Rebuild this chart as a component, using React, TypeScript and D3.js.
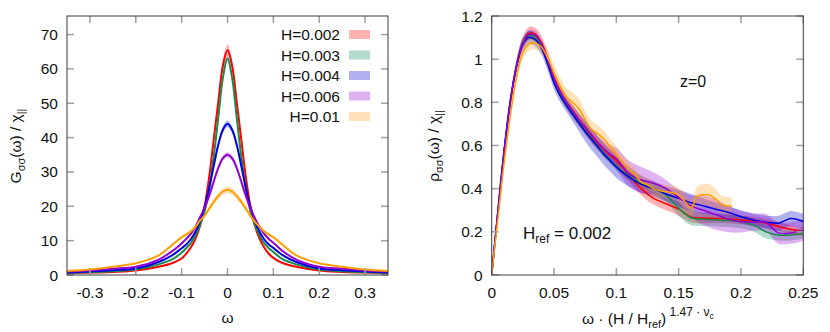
import * as d3 from "d3";

const FONT = "'Liberation Sans', Arial, Helvetica, sans-serif";

// ---------- left panel: G_σσ(ω) / χ ----------
const omega = [
  -0.35, -0.3, -0.25, -0.2, -0.15, -0.12, -0.1, -0.09, -0.08, -0.07, -0.06, -0.05, -0.04, -0.03, -0.02, -0.01,
  0, 0.01, 0.02, 0.03, 0.04, 0.05, 0.06, 0.07, 0.08, 0.09, 0.1, 0.12, 0.15, 0.2, 0.25, 0.3, 0.35,
];
const gH002 = [0.5, 0.7, 0.9, 1.3, 2.4, 3.5, 4.8, 6.2, 8, 10.5, 14.3, 20, 28.5, 39.5, 50.5, 61, 65.5, 61, 50.5, 39.5, 28.5, 20, 14.3, 10.5, 8, 6.2, 5.0, 3.5, 2.4, 1.3, 0.9, 0.7, 0.5];
const gH003 = [0.6, 0.8, 1.1, 1.6, 3.1, 4.6, 6.5, 7.8, 9.3, 11.5, 14.5, 18.5, 25, 34.5, 46, 57.5, 63, 57.5, 46, 34.5, 25, 18.5, 14.5, 11.5, 9.3, 7.8, 6.7, 4.6, 3.1, 1.6, 1.1, 0.8, 0.6];
const gH004 = [0.7, 1.0, 1.4, 1.9, 3.8, 5.8, 7.8, 8.9, 10.4, 12.6, 15.7, 19.8, 25.3, 31.8, 38, 42.3, 44, 42.3, 38, 31.8, 25.3, 19.8, 15.7, 12.6, 10.4, 8.9, 7.9, 5.8, 3.8, 1.9, 1.4, 1.0, 0.7];
const gH006 = [1.0, 1.3, 1.8, 2.4, 4.5, 7.0, 9.2, 10.5, 12, 14, 16.8, 19.5, 23, 27.2, 31.2, 34, 35, 34, 31.2, 27.2, 23, 19.5, 16.5, 14, 12, 10.5, 9.4, 7.0, 4.5, 2.4, 1.8, 1.3, 1.0];
const gH01 = [1.2, 1.6, 2.4, 3.4, 5.7, 8.8, 11.0, 11.8, 12.7, 14, 15.8, 17.3, 19.3, 21.3, 23, 24.3, 24.8, 24.3, 23, 21.3, 19.3, 17.3, 15.5, 14, 12.7, 11.8, 11.0, 8.8, 5.7, 3.4, 2.4, 1.6, 1.2];
const gRelErr = [0.025, 0.015, 0.022, 0.022, 0.04];

const legendLabels = ["H=0.002", "H=0.003", "H=0.004", "H=0.006", "H=0.01"];
const lineColors = ["#ff0000", "#1a8a4a", "#0000e0", "#9400d3", "#ffa000"];
const bandColors = ["#ff0000", "#00875a", "#0000cd", "#9400d3", "#ffa020"];

const gTicksX = [-0.3, -0.2, -0.1, 0, 0.1, 0.2, 0.3];
const gTicksY = [0, 10, 20, 30, 40, 50, 60, 70];

// ---------- right panel: ρ_σσ(ω) / χ ----------
const uGrid = [
  0, 0.005, 0.01, 0.015, 0.02, 0.025, 0.03, 0.035, 0.04, 0.045, 0.05, 0.055, 0.06, 0.065, 0.07, 0.075, 0.08, 0.085,
  0.09, 0.095, 0.1, 0.11, 0.12, 0.13, 0.14, 0.15, 0.16, 0.17, 0.18, 0.19, 0.2, 0.21, 0.22, 0.23, 0.24, 0.25,
];
const rhoH002 = [0, 0.29, 0.57, 0.8, 0.97, 1.075, 1.12, 1.115, 1.075, 1.0, 0.915, 0.85, 0.8, 0.76, 0.72, 0.685, 0.645, 0.61, 0.58, 0.555, 0.53, 0.465, 0.4, 0.355, 0.33, 0.305, 0.268, 0.264, 0.262, 0.26, 0.255, 0.25, 0.24, 0.225, 0.212, 0.2];
const errH002 = [0, 0.01, 0.02, 0.025, 0.03, 0.03, 0.03, 0.03, 0.03, 0.03, 0.03, 0.03, 0.03, 0.03, 0.03, 0.03, 0.03, 0.03, 0.03, 0.03, 0.03, 0.03, 0.03, 0.03, 0.03, 0.03, 0.025, 0.025, 0.02, 0.02, 0.02, 0.02, 0.02, 0.02, 0.02, 0.02];
const rhoH003 = [0, 0.3, 0.58, 0.81, 0.97, 1.075, 1.11, 1.1, 1.06, 0.985, 0.9, 0.84, 0.79, 0.75, 0.71, 0.67, 0.635, 0.6, 0.565, 0.535, 0.505, 0.46, 0.425, 0.4, 0.37, 0.31, 0.265, 0.258, 0.255, 0.252, 0.247, 0.232, 0.2, 0.185, 0.185, 0.193];
const errH003 = [0, 0.01, 0.015, 0.02, 0.02, 0.02, 0.02, 0.02, 0.02, 0.02, 0.02, 0.02, 0.02, 0.02, 0.02, 0.02, 0.02, 0.02, 0.02, 0.02, 0.02, 0.02, 0.02, 0.025, 0.03, 0.035, 0.035, 0.03, 0.03, 0.03, 0.03, 0.03, 0.03, 0.025, 0.025, 0.025];
const rhoH004 = [0, 0.3, 0.58, 0.81, 0.97, 1.07, 1.1, 1.09, 1.05, 0.975, 0.89, 0.83, 0.785, 0.745, 0.705, 0.665, 0.63, 0.595, 0.56, 0.53, 0.5, 0.455, 0.42, 0.4, 0.375, 0.355, 0.335, 0.32, 0.305, 0.29, 0.27, 0.255, 0.245, 0.24, 0.262, 0.248];
const errH004 = [0, 0.01, 0.02, 0.025, 0.03, 0.03, 0.03, 0.03, 0.03, 0.03, 0.03, 0.03, 0.03, 0.035, 0.04, 0.045, 0.05, 0.05, 0.05, 0.05, 0.05, 0.045, 0.04, 0.035, 0.035, 0.04, 0.04, 0.035, 0.03, 0.03, 0.03, 0.03, 0.03, 0.035, 0.035, 0.035];
const rhoH006 = [0, 0.29, 0.57, 0.8, 0.97, 1.07, 1.115, 1.11, 1.07, 0.995, 0.91, 0.85, 0.8, 0.76, 0.72, 0.685, 0.65, 0.615, 0.585, 0.56, 0.54, 0.47, 0.44, 0.425, 0.4, 0.36, 0.32, 0.3, 0.28, 0.258, 0.247, 0.245, 0.243, 0.195, 0.195, 0.208];
const errH006 = [0, 0.01, 0.015, 0.02, 0.02, 0.02, 0.02, 0.02, 0.02, 0.02, 0.02, 0.02, 0.02, 0.025, 0.03, 0.03, 0.03, 0.03, 0.035, 0.04, 0.05, 0.06, 0.06, 0.05, 0.04, 0.035, 0.05, 0.07, 0.07, 0.06, 0.05, 0.04, 0.04, 0.05, 0.05, 0.05];
const uH01 = [
  0, 0.005, 0.01, 0.015, 0.02, 0.025, 0.03, 0.035, 0.04, 0.045, 0.05, 0.055, 0.06, 0.065, 0.07, 0.075, 0.08, 0.085, 0.09,
  0.095, 0.1, 0.105, 0.11, 0.115, 0.12, 0.125, 0.13, 0.135, 0.14, 0.145, 0.15, 0.155, 0.16, 0.165, 0.17, 0.175, 0.18, 0.185, 0.1925,
];
const rhoH01 = [0, 0.26, 0.52, 0.74, 0.92, 1.03, 1.07, 1.075, 1.055, 1.005, 0.935, 0.875, 0.825, 0.8, 0.77, 0.72, 0.675, 0.655, 0.63, 0.595, 0.56, 0.52, 0.49, 0.465, 0.43, 0.418, 0.4, 0.39, 0.386, 0.382, 0.37, 0.34, 0.31, 0.365, 0.372, 0.37, 0.35, 0.325, 0.32];
const errH01 = [0, 0.01, 0.02, 0.025, 0.03, 0.03, 0.03, 0.03, 0.035, 0.04, 0.04, 0.04, 0.04, 0.045, 0.045, 0.04, 0.04, 0.04, 0.04, 0.035, 0.035, 0.035, 0.035, 0.03, 0.03, 0.03, 0.03, 0.03, 0.03, 0.03, 0.035, 0.04, 0.04, 0.045, 0.05, 0.05, 0.045, 0.04, 0.04];

const rhoTicksX = [0, 0.05, 0.1, 0.15, 0.2, 0.25];
const rhoTicksY = [0, 0.2, 0.4, 0.6, 0.8, 1, 1.2];

type Pt = { x: number; y: number; e: number };

const App = () => {
  const top = 16;
  const bottom = 275;

  // scales
  const gx = d3.scaleLinear().domain([-0.35, 0.35]).range([67, 388]);
  const gy = d3.scaleLinear().domain([0, 75.4]).range([bottom, top]);
  const rx = d3.scaleLinear().domain([0, 0.25]).range([491.7, 803.3]);
  const ry = d3.scaleLinear().domain([0, 1.2]).range([bottom, top]);

  const gSeries: Pt[][] = [gH002, gH003, gH004, gH006, gH01].map((vals, i) =>
    vals.map((v, j) => ({ x: omega[j], y: v, e: v * gRelErr[i] }))
  );
  const rhoSeries: Pt[][] = [
    [uGrid, rhoH002, errH002],
    [uGrid, rhoH003, errH003],
    [uGrid, rhoH004, errH004],
    [uGrid, rhoH006, errH006],
    [uH01, rhoH01, errH01],
  ].map(([xs, vs, es]) => xs.map((x, j) => ({ x, y: vs[j], e: es[j] })));

  const curve = d3.curveCatmullRom.alpha(0.5);
  const mkLine = (xs, ys) => d3.line<Pt>().x((d) => xs(d.x)).y((d) => ys(d.y)).curve(curve);
  const mkArea = (xs, ys) =>
    d3
      .area<Pt>()
      .x((d) => xs(d.x))
      .y0((d) => ys(Math.max(0, d.y - d.e)))
      .y1((d) => ys(d.y + d.e))
      .curve(curve);

  const frame = (xs, ys, xTicks: number[], yTicks: number[]) => {
    const [l, r] = xs.range();
    return (
      <g>
        {xTicks.map((t) => (
          <g key={"x" + t}>
            <line x1={xs(t)} x2={xs(t)} y1={bottom} y2={bottom - 7} stroke="#a0a0a0" strokeWidth={1.5} />
            <line x1={xs(t)} x2={xs(t)} y1={top} y2={top + 7} stroke="#a0a0a0" strokeWidth={1.5} />
            <text x={xs(t)} y={bottom + 23} textAnchor="middle" fontSize={15.5}>
              {String(t)}
            </text>
          </g>
        ))}
        {yTicks.map((t) => (
          <g key={"y" + t}>
            <line x1={l} x2={l + 7} y1={ys(t)} y2={ys(t)} stroke="#a0a0a0" strokeWidth={1.5} />
            <line x1={r} x2={r - 7} y1={ys(t)} y2={ys(t)} stroke="#a0a0a0" strokeWidth={1.5} />
            <text x={l - 9} y={ys(t) + 5.5} textAnchor="end" fontSize={15.5}>
              {String(t)}
            </text>
          </g>
        ))}
        <rect x={l} y={top} width={r - l} height={bottom - top} fill="none" stroke="#3a3a3a" strokeWidth={1} />
      </g>
    );
  };

  const gLine = mkLine(gx, gy);
  const gArea = mkArea(gx, gy);
  const rLine = mkLine(rx, ry);
  const rArea = mkArea(rx, ry);

  return (
    <svg
      width={830}
      height={332}
      style={{ position: "absolute", left: 0, top: 0, background: "#fff" }}
      fontFamily={FONT}
      fill="#111"
    >
      <defs>
        <clipPath id="clipG">
          <rect x={67} y={top} width={321} height={bottom - top} />
        </clipPath>
        <clipPath id="clipR">
          <rect x={491.7} y={top} width={311.6} height={bottom - top} />
        </clipPath>
      </defs>

      {/* left panel */}
      <g clipPath="url(#clipG)">
        {gSeries.map((s, i) => (
          <path key={"ga" + i} d={gArea(s)} fill={bandColors[i]} fillOpacity={0.3} stroke="none" />
        ))}
        {gSeries.map((s, i) => (
          <path key={"gl" + i} d={gLine(s)} fill="none" stroke={lineColors[i]} strokeWidth={2} />
        ))}
      </g>
      {frame(gx, gy, gTicksX, gTicksY)}

      {/* legend */}
      {legendLabels.map((lab, i) => (
        <g key={lab}>
          <text x={340} y={34.5 + i * 20.5 + 5.5} textAnchor="end" fontSize={15.5}>
            {lab}
          </text>
          <rect x={349} y={34.5 + i * 20.5 - 4.5} width={21} height={9} fill={bandColors[i]} fillOpacity={0.3} />
        </g>
      ))}

      <text transform="translate(21,146) rotate(-90)" textAnchor="middle" fontSize={15.5}>
        G<tspan fontSize={11} dy={4}>σσ</tspan>
        <tspan dy={-4}>(ω) / χ</tspan>
        <tspan fontSize={11} dy={4}>||</tspan>
      </text>
      <text x={227.5} y={323} textAnchor="middle" fontSize={15.5}>
        ω
      </text>

      {/* right panel */}
      <g clipPath="url(#clipR)">
        {rhoSeries.map((s, i) => (
          <path key={"ra" + i} d={rArea(s)} fill={bandColors[i]} fillOpacity={0.3} stroke="none" />
        ))}
        {rhoSeries.map((s, i) => (
          <path key={"rl" + i} d={rLine(s)} fill="none" stroke={lineColors[i]} strokeWidth={1.5} />
        ))}
      </g>
      {frame(rx, ry, rhoTicksX, rhoTicksY)}

      <text x={693} y={87} textAnchor="middle" fontSize={16}>
        z=0
      </text>
      <text x={523} y={239} fontSize={17}>
        H<tspan fontSize={12} dy={4}>ref</tspan>
        <tspan dy={-4}> = 0.002</tspan>
      </text>

      <text transform="translate(439,146) rotate(-90)" textAnchor="middle" fontSize={15.5}>
        ρ<tspan fontSize={11} dy={4}>σσ</tspan>
        <tspan dy={-4}>(ω) / χ</tspan>
        <tspan fontSize={11} dy={4}>||</tspan>
      </text>
      <text x={648} y={324} textAnchor="middle" fontSize={15.5}>
        ω · (H / H<tspan fontSize={11} dy={4}>ref</tspan>
        <tspan dy={-4}>)</tspan>
        <tspan fontSize={12} dy={-8}> 1.47 · ν</tspan>
        <tspan fontSize={9} dy={3}>c</tspan>
      </text>
    </svg>
  );
};

export default App;
